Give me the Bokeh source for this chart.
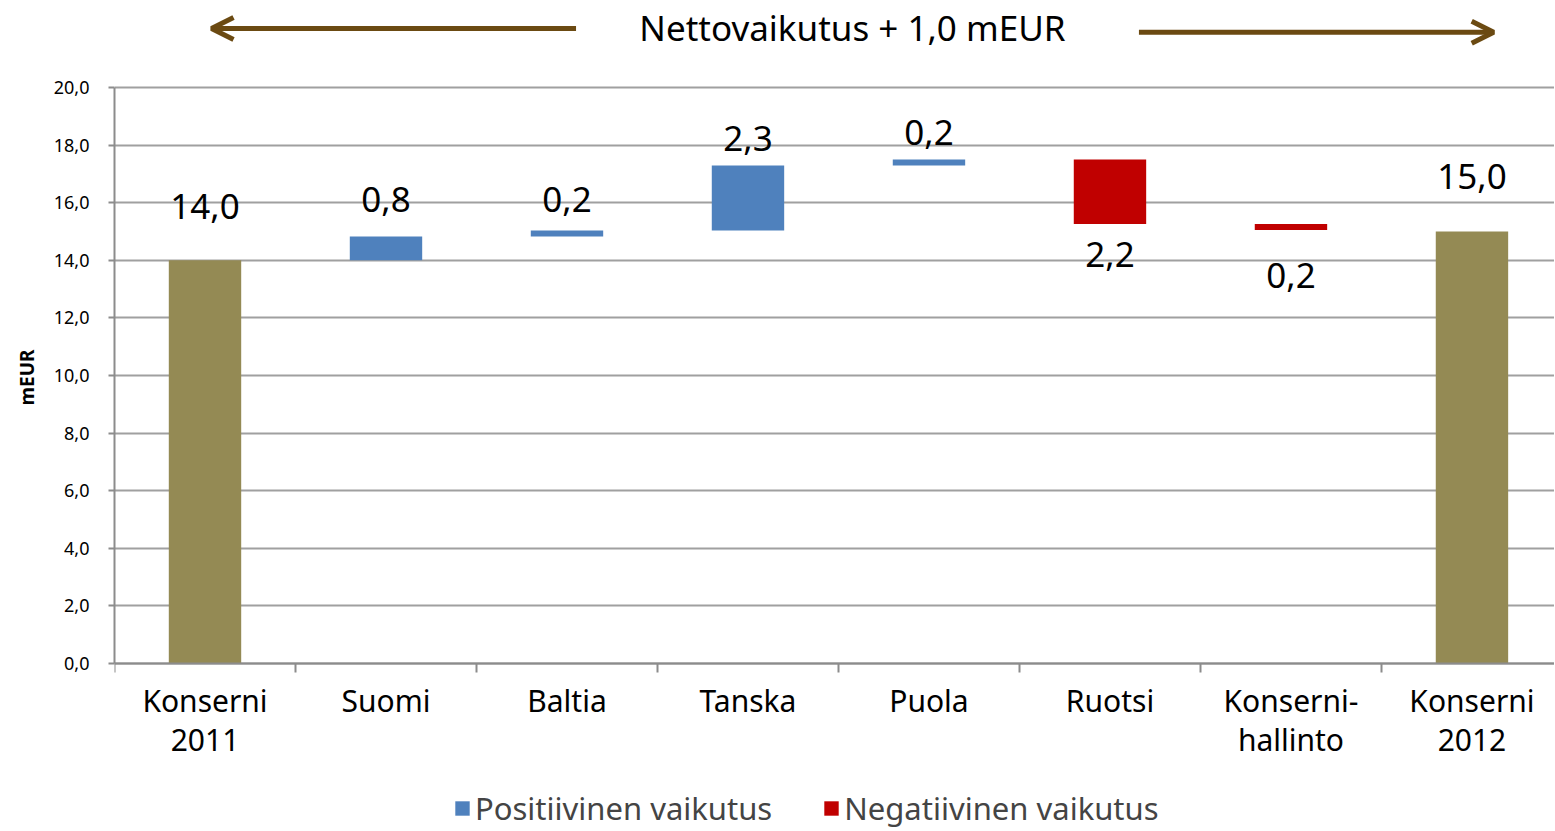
from bokeh.plotting import figure
from bokeh.models import (Range1d, FixedTicker, Legend, LegendItem, Arrow, OpenHead,
                          Label, Title, ColumnDataSource)
from bokeh.core.properties import value
from bokeh.embed import file_html
from bokeh.resources import INLINE

# ---- data ----
categories = ["Konserni\n2011", "Suomi", "Baltia", "Tanska", "Puola", "Ruotsi",
              "Konserni-\nhallinto", "Konserni\n2012"]
start_total = 14.0
end_total = 15.0
changes = [0.83, 0.20, 2.26, 0.21, -2.24, -0.21]
y_tick_values = [0, 2, 4, 6, 8, 10, 12, 14, 16, 18, 20]
legend_labels = ["Positiivinen vaikutus", "Negatiivinen vaikutus"]

# ---- styling ----
FONT = "Noto Sans"
OLIVE = "#948A54"
BLUE = "#4F81BD"
RED = "#C00000"
BROWN = "#6B4A12"
GRID = "#A0A0A0"
AXIS = "#8C8C8C"
label_gaps = [54, 37, 31, 27, 27, -31, -45, 55]   # px above (+) / below (-) the bar


def fmt(v):
    return f"{abs(v):.1f}".replace(".", ",")


n = len(categories)
xs = list(range(n))

# waterfall geometry from data
cum = [start_total]
for c in changes:
    cum.append(cum[-1] + c)

pos = dict(x=[], bottom=[], top=[])
neg = dict(x=[], bottom=[], top=[])
for i, c in enumerate(changes):
    lo, hi = sorted([cum[i], cum[i + 1]])
    d = pos if c >= 0 else neg
    d["x"].append(i + 1)
    d["bottom"].append(lo)
    d["top"].append(hi)

tot = dict(x=[0, n - 1], bottom=[0, 0], top=[start_total, end_total])

lab_x, lab_y, lab_t, lab_off = [], [], [], []
lab_x.append(0); lab_y.append(start_total); lab_t.append(fmt(start_total)); lab_off.append(-label_gaps[0])
for i, c in enumerate(changes):
    lo, hi = sorted([cum[i], cum[i + 1]])
    lab_x.append(i + 1)
    lab_y.append(hi if c >= 0 else lo)
    lab_t.append(fmt(c))
    lab_off.append(-label_gaps[i + 1])
lab_x.append(n - 1); lab_y.append(end_total); lab_t.append(fmt(end_total)); lab_off.append(-label_gaps[-1])

# frame covers the whole height; the category axis is pinned at y = 0
p = figure(frame_width=1440, frame_height=829, output_backend="svg", toolbar_location=None,
           x_range=Range1d(-0.5, 7.456), y_range=Range1d(-5.764, 23.02),
           min_border_left=113, min_border_right=0, min_border_top=0, min_border_bottom=0)
p.outline_line_color = None
p.background_fill_color = "white"
p.border_fill_color = "white"

p.vbar(x="x", bottom="bottom", top="top", width=0.4, source=ColumnDataSource(tot),
       fill_color=OLIVE, line_color=None)
r_pos = p.vbar(x="x", bottom="bottom", top="top", width=0.4, source=ColumnDataSource(pos),
               fill_color=BLUE, line_color=None)
r_neg = p.vbar(x="x", bottom="bottom", top="top", width=0.4, source=ColumnDataSource(neg),
               fill_color=RED, line_color=None)

p.text(x="x", y="y", text="t", y_offset="off",
       source=ColumnDataSource(dict(x=lab_x, y=lab_y, t=lab_t, off=lab_off)),
       text_font=value(FONT), text_font_size="35px", text_align="center",
       text_baseline="alphabetic", text_color="black")

# axes
xa = p.xaxis[0]
xa.fixed_location = 0
xa.ticker = FixedTicker(ticks=xs, minor_ticks=[i - 0.5 for i in range(n + 1)])
xa.major_label_overrides = {i: categories[i] for i in xs}
xa.major_tick_out = 0
xa.major_tick_in = 0
xa.minor_tick_out = 9
xa.minor_tick_in = 0
xa.minor_tick_line_color = AXIS
xa.minor_tick_line_width = 2
xa.axis_line_color = AXIS
xa.axis_line_width = 2
xa.major_label_text_font = FONT
xa.major_label_text_font_size = "30px"
xa.major_label_text_color = "black"
xa.major_label_text_line_height = 0.95
xa.major_label_standoff = 8

ya = p.yaxis[0]
ya.ticker = FixedTicker(ticks=y_tick_values, minor_ticks=[])
ya.major_label_overrides = {t: f"{t:.1f}".replace(".", ",") for t in y_tick_values}
ya.bounds = (0, 20)
ya.axis_line_color = AXIS
ya.axis_line_width = 2
ya.major_tick_line_color = AXIS
ya.major_tick_line_width = 2
ya.major_tick_out = 6
ya.major_tick_in = 0
ya.minor_tick_line_color = None
ya.major_label_text_font = FONT
ya.major_label_text_font_size = "18px"
ya.major_label_text_color = "black"
ya.major_label_standoff = 19

p.xgrid.grid_line_color = None
p.ygrid.ticker = FixedTicker(ticks=y_tick_values)
p.ygrid.grid_line_color = GRID
p.ygrid.grid_line_width = 2

# y-axis title as a side title, placed at the middle of the 0..20 span
p.add_layout(Title(text="mEUR", align="left", offset=424, standoff=22,
                   text_font=FONT, text_font_size="19px", text_font_style="bold",
                   text_color="black"), "left")

# title with arrows
net = end_total - start_total
p.add_layout(Label(x=3.577, y=22.08, text=f"Nettovaikutus + {fmt(net)} mEUR",
                   text_font=FONT, text_font_size="35px", text_align="center",
                   text_baseline="middle", text_color="black"))
p.add_layout(Arrow(end=OpenHead(size=22, line_width=5, line_color=BROWN),
                   x_start=2.05, y_start=22.05, x_end=0.036, y_end=22.05,
                   line_width=5, line_color=BROWN))
p.add_layout(Arrow(end=OpenHead(size=22, line_width=5, line_color=BROWN),
                   x_start=5.16, y_start=21.92, x_end=7.12, y_end=21.92,
                   line_width=5, line_color=BROWN))

legend = Legend(items=[LegendItem(label=legend_labels[0], renderers=[r_pos]),
                       LegendItem(label=legend_labels[1], renderers=[r_neg])],
                orientation="horizontal", location=(339, 0),
                border_line_color=None, background_fill_alpha=0,
                label_text_font=FONT, label_text_font_size="31px",
                glyph_width=18, glyph_height=18, spacing=50, label_standoff=4,
                padding=0, margin=0)
p.add_layout(legend)

open("out.html", "w").write(file_html(p, INLINE))
